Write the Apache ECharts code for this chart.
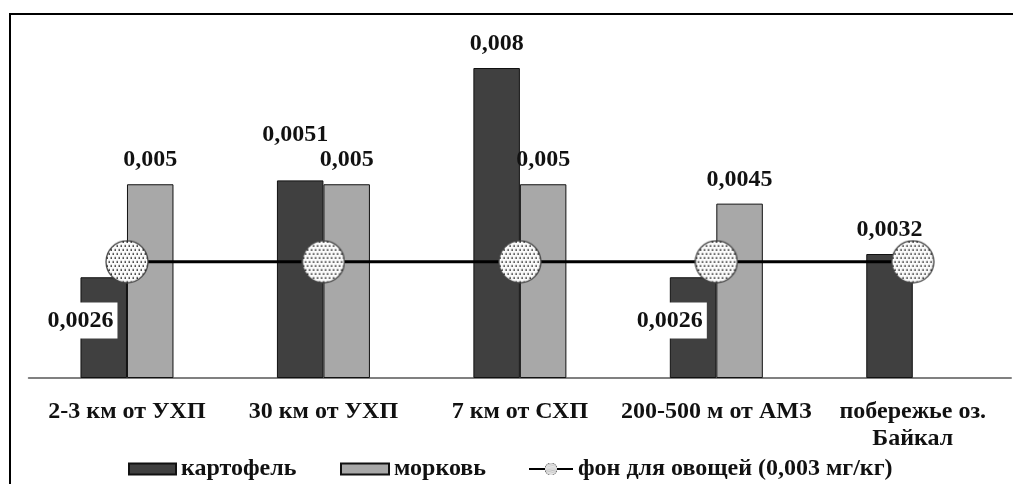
<!DOCTYPE html>
<html>
<head>
<meta charset="utf-8">
<script src="https://cdn.jsdelivr.net/npm/echarts@6/dist/echarts.min.js"></script>
<style>
  html, body { margin: 0; padding: 0; background: #fff; }
  #chart { width: 1013px; height: 484px; }
</style>
</head>
<body>
<div id="chart"></div>
<script>
// Sites where vegetables were sampled
const categories = ['2-3 км от УХП', '30 км от УХП', '7 км от СХП', '200-500 м от АМЗ', 'побережье оз.\nБайкал'];
// Content, mg/kg
const potato = [0.0026, 0.0051, 0.008, 0.0026, 0.0032];
const carrot = [0.005, 0.005, 0.005, 0.0045, null];
const background = [0.003, 0.003, 0.003, 0.003, 0.003];
const seriesNames = ['картофель', 'морковь', 'фон для овощей (0,003 мг/кг)'];

const FONT = '"Liberation Serif", "Times New Roman", serif';

// Stippled round marker for the background level
function dotMarker() {
  const s = 88;
  const c = document.createElement('canvas');
  c.width = s; c.height = s;
  const g = c.getContext('2d');
  g.beginPath();
  g.arc(s / 2, s / 2, s / 2 - 2, 0, Math.PI * 2);
  g.fillStyle = '#fbfbfb';
  g.fill();
  g.save();
  g.clip();
  g.fillStyle = '#111';
  for (let y = 3, row = 0; y < s; y += 8, row++) {
    for (let x = (row % 2) ? 7 : 3; x < s; x += 8) {
      g.fillRect(x, y, 3, 3);
    }
  }
  g.restore();
  g.lineWidth = 2.5;
  g.strokeStyle = '#444';
  g.stroke();
  return 'image://' + c.toDataURL();
}

const fmt = v => String(v).replace('.', ',');

const baseLabel = {
  show: true,
  position: 'top',
  distance: 12,
  color: '#111',
  fontFamily: FONT,
  fontWeight: 'bold',
  fontSize: 24,
  formatter: p => fmt(p.value)
};

// Labels of small values sit across the bar's left edge on a white box
const sideLabel = {
  position: [0, '43%'],
  align: 'center',
  verticalAlign: 'middle',
  backgroundColor: '#ffffff',
  padding: [6, 4, 6, 4]
};

const potatoData = potato.map((v, i) => {
  const item = { value: v };
  if (v < 0.003) item.label = sideLabel;
  if (i === 1) item.label = { offset: [-5, -22] };
  return item;
});

const chart = echarts.init(document.getElementById('chart'), null, { renderer: 'canvas' });

const legendText = { color: '#111', fontFamily: FONT, fontWeight: 'bold', fontSize: 24 };
const marker = dotMarker();

chart.setOption({
  animation: false,
  backgroundColor: '#ffffff',
  grid: { left: 28.75, right: 2, top: 29.25, bottom: 106 },
  graphic: [{
    type: 'rect',
    shape: { x: 10, y: 14, width: 1100, height: 600 },
    style: { fill: 'none', stroke: '#000', lineWidth: 2 },
    silent: true,
    z: 100
  }],
  legend: [
    { data: [{ name: seriesNames[0], icon: 'rect' }], left: 123, top: 452, itemWidth: 47, itemHeight: 11, itemGap: 0, textStyle: legendText },
    { data: [{ name: seriesNames[1], icon: 'rect' }], left: 335, top: 452, itemWidth: 48, itemHeight: 11, itemGap: 0, textStyle: legendText },
    { data: [seriesNames[2]], left: 523, top: 452, itemWidth: 44, itemHeight: 16, itemGap: 0, textStyle: legendText }
  ],
  xAxis: {
    type: 'category',
    data: categories,
    axisTick: { show: false },
    axisLine: { lineStyle: { color: '#808080', width: 2 } },
    axisLabel: {
      interval: 0,
      margin: 20,
      color: '#111',
      fontFamily: FONT,
      fontWeight: 'bold',
      fontSize: 24,
      lineHeight: 27
    }
  },
  yAxis: {
    type: 'value',
    min: 0,
    max: 0.009,
    show: false,
    splitLine: { show: false }
  },
  series: [
    {
      name: seriesNames[0],
      type: 'bar',
      data: potatoData,
      barWidth: 46.5,
      barGap: '0%',
      itemStyle: { color: '#404040', borderColor: '#111', borderWidth: 1 },
      label: baseLabel,
      z: 2
    },
    {
      name: seriesNames[1],
      type: 'bar',
      data: carrot,
      barWidth: 46.5,
      barGap: '0%',
      itemStyle: { color: '#a8a8a8', borderColor: '#111', borderWidth: 1 },
      label: baseLabel,
      z: 2
    },
    {
      name: seriesNames[2],
      type: 'line',
      data: background,
      symbol: marker,
      symbolSize: 44,
      lineStyle: { color: '#000', width: 3 },
      itemStyle: { color: '#000' },
      z: 3
    }
  ]
});
</script>
</body>
</html>
